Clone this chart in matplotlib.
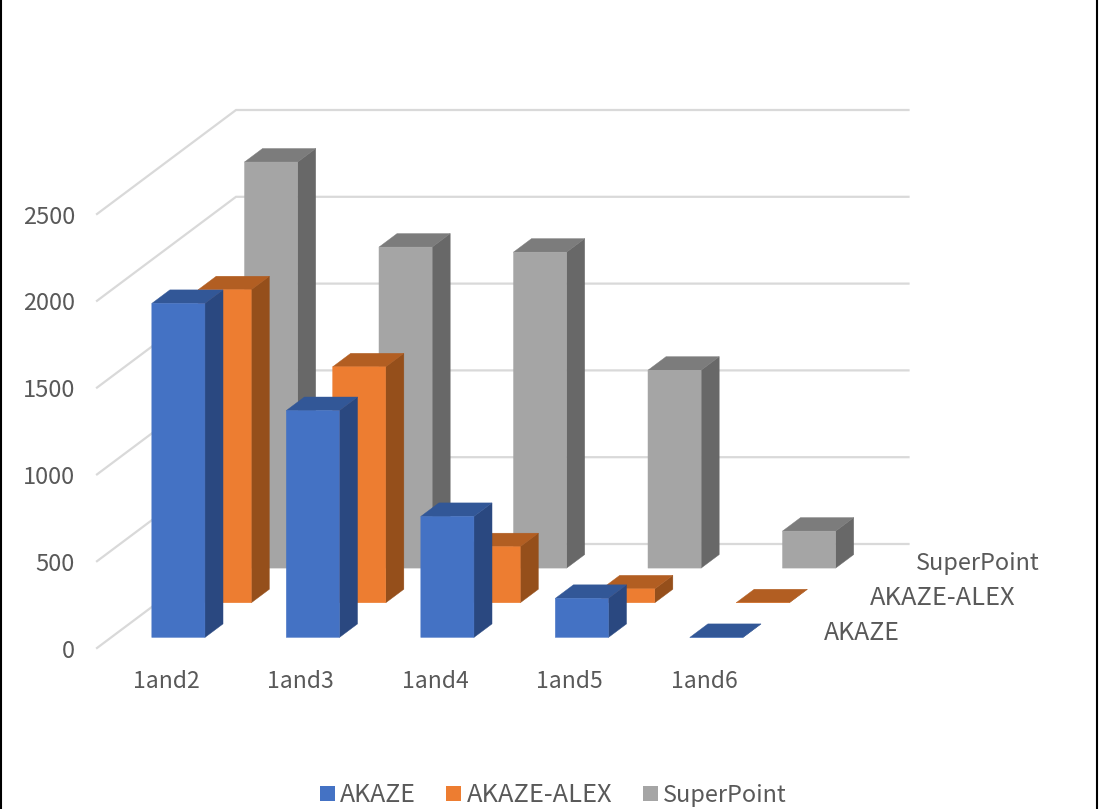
import matplotlib
matplotlib.use("Agg")
import matplotlib.pyplot as plt
from matplotlib.lines import Line2D
from matplotlib.patches import Patch, Polygon

categories = ["1and2", "1and3", "1and4", "1and5", "1and6"]
series_names = ["AKAZE", "AKAZE-ALEX", "SuperPoint"]
akaze = [1924, 1307, 697, 225, 0]
akaze_alex = [1803, 1359, 323, 80, 0]
superpoint = [2339, 1849, 1820, 1140, 213]
value_ticks = [0, 500, 1000, 1500, 2000, 2500]

plt.rcParams["font.family"] = ["Noto Sans CJK JP", "DejaVu Sans"]

TEXT = "#595959"
GRID = "#D9D9D9"
# front, top and side shade of each series
SHADES = [
    ("#4472C4", "#325797", "#2A4880"),
    ("#ED7D31", "#B25E22", "#954F1B"),
    ("#A5A5A5", "#7C7C7C", "#686868"),
]
# the capitals run wide in this face, so each series name gets its own size
NAME_SIZES = [17.9, 18.3, 16.9]

# oblique projection: going from the front to the back wall shifts a point
# by DEPTH_X categories and DEPTH_Y value units
PX_PER_CAT = 134.5
PX_PER_VAL = 0.1736
DEPTH_X = 139 / PX_PER_CAT
DEPTH_Y = 104 / PX_PER_VAL
BAR_W = 0.395
BAR_D = 0.13


def project(x, d, v):
    return x + d * DEPTH_X, v + d * DEPTH_Y


fig = plt.figure(figsize=(11.02, 8.09), dpi=100)
ax = fig.add_axes([0, 0, 1, 1])
ax.set_xlim(-97 / PX_PER_CAT, (1102 - 97) / PX_PER_CAT)
ax.set_ylim((648 - 809) / PX_PER_VAL, 648 / PX_PER_VAL)
ax.axis("off")

# side wall and back wall gridlines
for v in value_ticks:
    pts = [project(0, 0, v), project(0, 1, v), project(len(categories), 1, v)]
    ax.plot([p[0] for p in pts], [p[1] for p in pts], color=GRID, lw=1.6,
            solid_joinstyle="miter", zorder=1)
    ax.annotate(str(v), (0, v), xytext=(-22, -3), textcoords="offset pixels",
                ha="right", va="center", fontsize=17, color=TEXT)

for i, name in enumerate(categories):
    ax.annotate(name, (i + 0.5, 0), xytext=(2, -34), textcoords="offset pixels",
                ha="center", va="center", fontsize=16.5, color=TEXT)

all_values = [akaze, akaze_alex, superpoint]
z = 2
# back series first so the front ones cover it
for k in [2, 1, 0]:
    d_mid = (k + 0.5) / 3
    d0, d1 = d_mid - BAR_D / 2, d_mid + BAR_D / 2
    front, top, side = SHADES[k]
    for i, v in enumerate(all_values[k]):
        x0 = i + 0.5 - BAR_W / 2
        x1 = i + 0.5 + BAR_W / 2
        faces = [
            ([(x1, d0, 0), (x1, d1, 0), (x1, d1, v), (x1, d0, v)], side),
            ([(x0, d0, v), (x1, d0, v), (x1, d1, v), (x0, d1, v)], top),
            ([(x0, d0, 0), (x1, d0, 0), (x1, d0, v), (x0, d0, v)], front),
        ]
        for corners, color in faces:
            ax.add_patch(Polygon([project(*c) for c in corners], closed=True,
                                 facecolor=color, edgecolor=color, lw=0.3,
                                 snap=False, zorder=z))
        z += 1
    # series name on the floor, past the last category
    lx, ly = project(len(categories), d_mid, 0)
    ax.annotate(series_names[k], (lx, ly), xytext=(31, -2), textcoords="offset pixels",
                ha="left", va="center", fontsize=NAME_SIZES[k], color=TEXT)

handles = [Patch(facecolor=SHADES[k][0], label=series_names[k]) for k in range(3)]
legend = fig.legend(handles=handles, loc="lower center", ncol=3, frameon=False,
                    bbox_to_anchor=(0.502, -0.0245), fontsize=17, labelcolor=TEXT,
                    handlelength=0.63, handleheight=0.63, handletextpad=0.22,
                    columnspacing=1.3)
for text, size in zip(legend.get_texts(), NAME_SIZES):
    text.set_fontsize(size)

# black rules down both sides
fig.add_artist(Line2D([1 / 1102, 1 / 1102], [0, 1], color="black", lw=1.5))
fig.add_artist(Line2D([1097 / 1102, 1097 / 1102], [0, 1], color="black", lw=1.5))

fig.savefig("out.png", dpi=100)
